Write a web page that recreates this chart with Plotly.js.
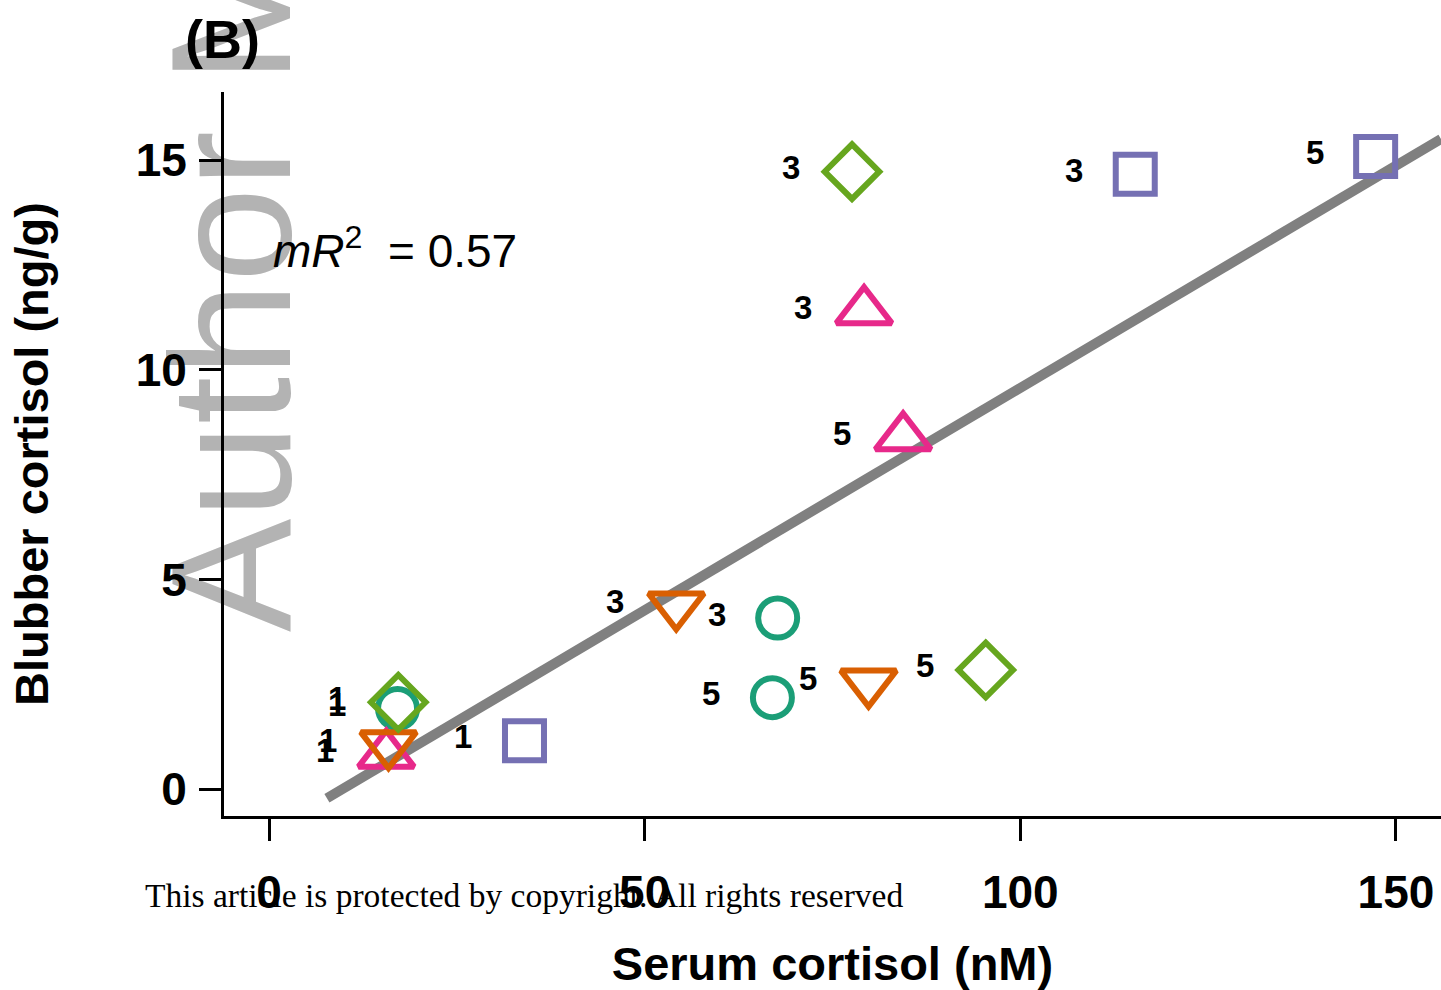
<!DOCTYPE html>
<html>
<head>
<meta charset="utf-8">
<script src="https://cdn.plot.ly/plotly-3.0.1.min.js"></script>
<style>html,body{margin:0;padding:0;background:#fff;}#chart{width:1441px;height:990px;}</style>
</head>
<body>
<div id="chart"></div>
<script>
// ---- data ----
const pointLabels = ['1', '3', '5'];

const circleX = [17.1, 67.7, 67.0];
const circleY = [1.92, 4.08, 2.18];

const upX = [15.6, 79.2, 84.4];
const upY = [0.82, 11.40, 8.39];

const downX = [15.9, 54.2, 79.8];
const downY = [1.07, 4.38, 2.54];

const diamondX = [17.2, 77.6, 95.4];
const diamondY = [2.07, 14.73, 2.84];

const squareX = [34.0, 115.3, 147.3];
const squareY = [1.15, 14.67, 15.09];

const fitX = [7.7, 156.0];
const fitY = [-0.22, 15.51];

const xTicks = [0, 50, 100, 150];
const yTicks = [0, 5, 10, 15];

const xTitle = 'Serum cortisol (nM)';
const yTitle = 'Blubber cortisol (ng/g)';
const panelLabel = '(B)';
const statText = '<i>mR</i><sup>2</sup>&nbsp; = 0.57';
const footerText = 'This article is protected by copyright. All rights reserved';
const watermarkText = 'Author Manuscript';

// ---- styling ----
const FONT = '"Liberation Sans", Arial, Helvetica, sans-serif';
const series = [
  {x: circleX, y: circleY, symbol: 'circle-open', color: '#1B9E77', size: 39},
  {x: upX, y: upY, symbol: 'triangle-up-open', color: '#E7298A', size: 48},
  {x: downX, y: downY, symbol: 'triangle-down-open', color: '#D95F02', size: 48},
  {x: diamondX, y: diamondY, symbol: 'diamond-open', color: '#66A61E', size: 42},
  {x: squareX, y: squareY, symbol: 'square-open', color: '#7570B3', size: 39}
];

const traces = [{
  x: fitX, y: fitY, mode: 'lines', type: 'scatter',
  line: {color: '#808080', width: 10}, hoverinfo: 'skip', cliponaxis: true
}];
series.forEach(s => traces.push({
  x: s.x, y: s.y, mode: 'markers', type: 'scatter', cliponaxis: false,
  marker: {symbol: s.symbol, size: s.size, color: s.color, line: {color: s.color, width: 6}}
}));

const annotations = [];
series.forEach(s => {
  s.x.forEach((xv, i) => annotations.push({
    x: xv, y: s.y[i], xref: 'x', yref: 'y', text: pointLabels[i], showarrow: false,
    xshift: -61, yshift: 4, xanchor: 'center', yanchor: 'middle',
    font: {family: FONT, size: 33, color: '#000', weight: 'bold'}
  }));
});
annotations.push({
  xref: 'paper', yref: 'paper', x: -0.001, y: 1.073, text: panelLabel, showarrow: false,
  xanchor: 'center', yanchor: 'middle', font: {family: FONT, size: 54, color: '#000', weight: 'bold'}
});
annotations.push({
  xref: 'paper', yref: 'paper', x: 0.039, y: 0.785, text: statText, showarrow: false,
  xanchor: 'left', yanchor: 'middle', font: {family: FONT, size: 46, color: '#000'}
});
annotations.push({
  xref: 'paper', yref: 'paper', x: 0.2466, y: -0.11, text: footerText, showarrow: false,
  xanchor: 'center', yanchor: 'middle', font: {family: '"Liberation Serif", "Times New Roman", serif', size: 33.5, color: '#000'}
});

const shapes = [{
  type: 'rect', xref: 'paper', yref: 'paper', layer: 'below',
  x0: -0.007, x1: -0.007, y0: 1.207, y1: 1.207,
  line: {width: 0}, fillcolor: 'rgba(0,0,0,0)',
  label: {text: watermarkText, textangle: -90, textposition: 'middle center',
          font: {family: FONT, size: 170, color: '#b3b3b3'}}
}];

const axisCommon = {
  showline: true, linecolor: '#000', linewidth: 3, mirror: false,
  ticks: 'outside', ticklen: 22, tickwidth: 3, tickcolor: '#000',
  showgrid: false, zeroline: false, fixedrange: true,
  tickfont: {family: FONT, size: 46, color: '#000', weight: 'bold'}
};

const layout = {
  width: 1441, height: 990,
  margin: {l: 224, r: 0, t: 92, b: 174, pad: 0},
  paper_bgcolor: '#fff', plot_bgcolor: 'rgba(0,0,0,0)',
  showlegend: false,
  xaxis: Object.assign({}, axisCommon, {
    range: [-6, 156], tickvals: xTicks, ticktext: xTicks.map(String),
    ticklabelstandoff: 12,
    title: {text: xTitle, standoff: 30, font: {family: FONT, size: 47, color: '#000', weight: 'bold'}},
    automargin: false
  }),
  yaxis: Object.assign({}, axisCommon, {
    range: [-0.644, 16.63], tickvals: yTicks, ticktext: yTicks.map(String),
    ticklabelstandoff: 3,
    title: {text: yTitle, standoff: 73, font: {family: FONT, size: 47, color: '#000', weight: 'bold'}},
    automargin: false
  }),
  annotations: annotations,
  shapes: shapes
};

Plotly.newPlot('chart', traces, layout, {displayModeBar: false, staticPlot: true});
</script>
</body>
</html>
